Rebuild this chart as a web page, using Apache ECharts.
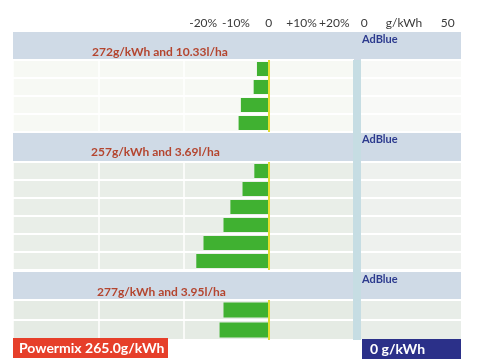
<!DOCTYPE html>
<html>
<head>
<meta charset="utf-8">
<style>html,body{margin:0;padding:0;background:#fff;}#c{width:479px;height:364px;}</style>
<script src="https://cdn.jsdelivr.net/npm/echarts@6/dist/echarts.min.js"></script>
</head>
<body>
<div id="c"></div>
<script>
// ---- data ----
const sectionTitles = ['272g/kWh and 10.33l/ha', '257g/kWh and 3.69l/ha', '277g/kWh and 3.95l/ha'];
const rows1 = ['1', '2', '3', '4'];
const rows2 = ['1', '2', '3', '4', '5', '6'];
const rows3 = ['1', '2'];
const values1 = [-3.6, -4.6, -8.5, -9.2];
const values2 = [-4.4, -8.0, -11.7, -13.8, -19.9, -22.1];
const values3 = [-13.8, -15.0];
const adblue1 = [0, 0, 0, 0];
const adblue2 = [0, 0, 0, 0, 0, 0];
const adblue3 = [0, 0];
const pctTicks = [-20, -10, 0, 10, 20];
const adTicks = [0, 50];
const adUnit = 'g/kWh';
const adLabel = 'AdBlue';
const powermixText = 'Powermix 265.0g/kWh';
const adblueTotalText = '0 g/kWh';

const FONT = 'Lato';
const rowsList = [rows1, rows2, rows3];
const valuesList = [values1, values2, values3];
const adList = [adblue1, adblue2, adblue3];
const tops = [60, 162, 300];
const heights = [72, 108, 40];
const rowBg = ['#f7f9f4', '#e9eee8', '#e5ebe4'];
const adBg = ['#f8f9f7', '#eef1ee', '#e8ede8'];

const grids = [], xAxes = [], yAxes = [], series = [], titles = [];
for (let i = 0; i < 3; i++) {
  grids.push({left: 13, top: tops[i], width: 341, height: heights[i], show: true, backgroundColor: rowBg[i], borderWidth: 0});
  xAxes.push({
    type: 'value', gridIndex: i, min: -78, max: 26, interval: 26, position: 'top',
    axisLine: {show: false}, axisTick: {show: false},
    axisLabel: i === 0 ? {
      show: true, customValues: pctTicks, margin: 31, color: '#3a3a3a', fontSize: 12, fontFamily: FONT,
      formatter: v => v > 0 ? '+' + v + '%' : (v === 0 ? '0' : v + '%')
    } : {show: false},
    splitLine: {show: true, lineStyle: {color: '#ffffff', width: 1.5}}
  });
  yAxes.push({
    type: 'category', gridIndex: i, data: rowsList[i], inverse: true,
    axisLine: {show: false}, axisTick: {show: false}, axisLabel: {show: false},
    splitLine: {show: true, lineStyle: {color: '#ffffff', width: 2}}
  });
  series.push({
    type: 'bar', xAxisIndex: i, yAxisIndex: i, data: valuesList[i],
    barWidth: i === 2 ? 15 : 14,
    itemStyle: {color: '#40b131'},
    markLine: {
      silent: true, symbol: 'none', label: {show: false},
      lineStyle: {color: '#e4de2e', width: 2, type: 'solid'},
      data: [{xAxis: 0}]
    }
  });
  titles.push({text: sectionTitles[i], left: [92, 91, 97][i], top: [46, 146, 286][i], padding: 0,
    textStyle: {color: '#b4452f', fontSize: 12, fontWeight: 'bold', fontFamily: FONT}});
  titles.push({text: adLabel, left: 362, top: [34, 134, 274][i], padding: 0,
    textStyle: {color: '#2c3a8e', fontSize: 11, fontWeight: 'bold', fontFamily: FONT}});
}
for (let i = 0; i < 3; i++) {
  grids.push({left: 361, top: tops[i], width: 100, height: heights[i], show: true, backgroundColor: adBg[i], borderWidth: 0});
  xAxes.push({
    type: 'value', gridIndex: 3 + i, min: -2, max: 58, position: 'top',
    axisLine: {show: false}, axisTick: {show: false},
    name: i === 0 ? adUnit : '', nameLocation: 'middle', nameGap: 31, nameMoveOverlap: false,
    nameTextStyle: {color: '#3a3a3a', fontSize: 12, fontFamily: FONT, padding: [0, 14, 0, 0]},
    axisLabel: i === 0 ? {show: true, customValues: adTicks, margin: 31, color: '#3a3a3a', fontSize: 12, fontFamily: FONT} : {show: false},
    splitLine: {show: false}
  });
  yAxes.push({
    type: 'category', gridIndex: 3 + i, data: rowsList[i], inverse: true,
    axisLine: {show: false}, axisTick: {show: false}, axisLabel: {show: false},
    splitLine: {show: true, lineStyle: {color: '#ffffff', width: 2}}
  });
  series.push({type: 'bar', xAxisIndex: 3 + i, yAxisIndex: 3 + i, data: adList[i], barWidth: 14, itemStyle: {color: '#2c3a8e'}});
}

const headerY = [32, 132, 272];
const headerH = [28, 30, 28];
const graphics = [];
for (let i = 0; i < 3; i++) {
  graphics.push({type: 'rect', shape: {x: 13, y: headerY[i], width: 448, height: headerH[i]}, style: {fill: '#cfdae6'}, z: 0});
}
graphics.push({type: 'rect', shape: {x: 353, y: 60, width: 8, height: 280}, style: {fill: '#c6dde3'}, z: 5});
graphics.push({type: 'rect', shape: {x: 13, y: 338, width: 155, height: 20}, style: {fill: '#e63f2a'}, z: 5});
graphics.push({type: 'text', x: 19, y: 348, style: {text: powermixText, fill: '#ffffff', font: 'bold 14px ' + FONT, verticalAlign: 'middle'}, z: 6});
graphics.push({type: 'rect', shape: {x: 362, y: 339, width: 99, height: 20}, style: {fill: '#2b3089'}, z: 5});
graphics.push({type: 'text', x: 370, y: 349, style: {text: adblueTotalText, fill: '#ffffff', font: 'bold 14px ' + FONT, verticalAlign: 'middle'}, z: 6});

const chart = echarts.init(document.getElementById('c'), null, {renderer: 'canvas'});
chart.setOption({
  animation: false,
  backgroundColor: '#ffffff',
  title: titles,
  grid: grids,
  xAxis: xAxes,
  yAxis: yAxes,
  series: series,
  graphic: graphics
});
</script>
</body>
</html>
